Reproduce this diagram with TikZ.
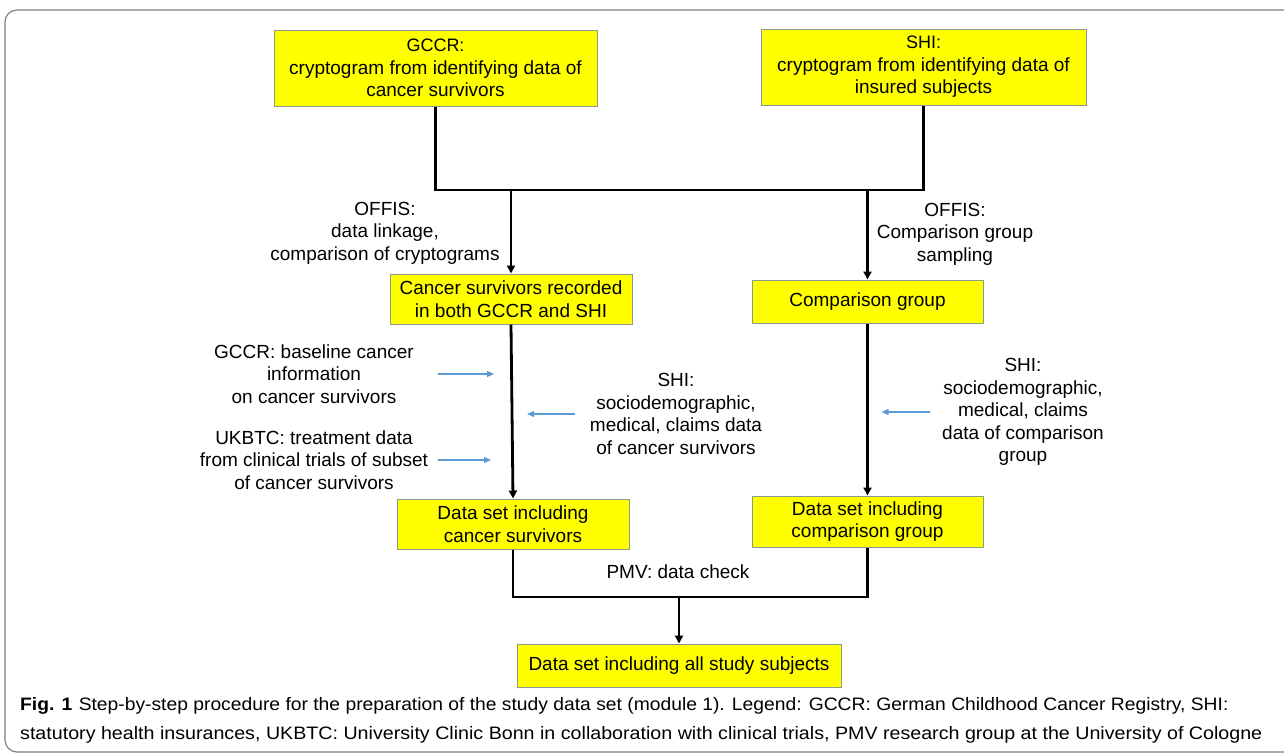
\documentclass[tikz,border=0pt]{standalone}
\usepackage{fontspec}
\setmainfont{Liberation Sans}
\usepackage{xcolor}
\usepackage{tikz}
\usetikzlibrary{arrows.meta,positioning,calc}

\definecolor{boxfill}{HTML}{FFFF00}
\definecolor{boxline}{HTML}{8A9A8A}
\definecolor{infoblue}{HTML}{5B9BD5}
\definecolor{framegray}{HTML}{808080}

\begin{document}
\begin{tikzpicture}[
      x=1pt, y=-1pt,
      font=\fontsize{19}{22.5}\selectfont,
      box/.style={draw=boxline, line width=1pt, fill=boxfill, align=center,
                  inner sep=0pt},
      lbl/.style={align=center, inner sep=0pt},
      link/.style={line width=2.8pt},
      arr/.style={line width=2.8pt, -{Triangle[length=8pt, width=8pt]}},
      info/.style={infoblue, line width=1.2pt, -{Triangle[length=7pt, width=6pt]}},
      capt/.style={anchor=west, inner sep=0pt, font=\fontsize{18}{20}\selectfont}
    ]
    \useasboundingbox (0,0) rectangle (1284,755);
    \clip (0,0) rectangle (1284,755);
    \draw[framegray, line width=1.2pt, rounded corners=12pt] (5,10) rectangle (1310,752);

    % sources
    \node[box, minimum width=323pt, minimum height=76pt] (gccr) at (435.5,68)
      {\fontsize{18}{22.5}\selectfont GCCR:\\cryptogram from identifying data of\\cancer survivors};
    \node[box, minimum width=325pt, minimum height=76pt] (shi) at (923.5,67)
      {\fontsize{18}{22.5}\selectfont SHI:\\cryptogram from identifying data of\\insured subjects};

    % linkage
    \node[box, minimum width=242pt, minimum height=50pt] (linked) at (511,299)
      {Cancer survivors recorded\\in both GCCR and SHI};
    \node[box, minimum width=231pt, minimum height=43pt] (compgrp) at (867.5,301.5)
      {Comparison group};
    \coordinate (topjoin) at (0,190);
    \draw[link] (gccr.south) -- (gccr.south |- topjoin) -| (shi.south);
    \draw[arr] (linked.north |- topjoin) -- (linked.north);
    \draw[arr] (compgrp.north |- topjoin) -- (compgrp.north);
    \node[lbl] (offisl) at (385,233) {OFFIS:\\data linkage,\\comparison of cryptograms};
    \node[lbl] (offisr) at (955,234) {OFFIS:\\Comparison group\\sampling};

    % data sets
    \node[box, minimum width=232pt, minimum height=50pt] (dscancer) at (513,524)
      {Data set including\\cancer survivors};
    \node[box, minimum width=231pt, minimum height=51pt] (dscomp) at (867.5,521.5)
      {Data set including\\comparison group};
    \draw[arr] (linked.south) -- (dscancer.north);
    \draw[arr] (compgrp.south) -- (dscomp.north);

    % extra data sources
    \node[lbl] (basel) at (314,374) {GCCR: baseline cancer\\information\\on cancer survivors};
    \node[lbl] (treat) at (314,460) {UKBTC: treatment data\\from clinical trials of subset\\of cancer survivors};
    \node[lbl] (claimsl) at (676,414) {SHI:\\sociodemographic,\\medical, claims data\\of cancer survivors};
    \node[lbl] (claimsr) at (1023,412) {SHI:\\sociodemographic,\\medical, claims\\data of comparison\\group};
    \draw[info] ([xshift=24pt]basel.east) -- ([xshift=-17pt]basel.east -| linked.south);
    \draw[info] ([xshift=10pt]treat.east) -- ([xshift=-20pt]treat.east -| linked.south);
    \draw[info] ([xshift=-15pt]claimsl.west) -- ([xshift=16pt]claimsl.west -| linked.south);
    \draw[info] ([xshift=-12pt]claimsr.west) -- ([xshift=14pt]claimsr.west -| compgrp.south);

    % merge
    \node[box, minimum width=324pt, minimum height=43pt] (dsall) at (679,665.5)
      {Data set including all study subjects};
    \coordinate (botjoin) at (0,597);
    \draw[link] (dscancer.south) -- (dscancer.south |- botjoin) -| (dscomp.south);
    \draw[arr] (dsall.north |- botjoin) -- (dsall.north);
    \node[lbl] (pmv) at (678,572) {PMV: data check};

    % caption
    \node[capt] (cap1) at (20,706) {\scalebox{1.071}[1]{\textbf{Fig. 1}\hspace{6pt}Step-by-step procedure for the preparation of the study data set (module 1). Legend: GCCR: German Childhood Cancer Registry, SHI:}};
    \node[capt] (cap2) at (20,735) {\scalebox{1.092}[1]{statutory health insurances, UKBTC: University Clinic Bonn in collaboration with clinical trials, PMV research group at the University of Cologne}};
  \end{tikzpicture}
\end{document}
